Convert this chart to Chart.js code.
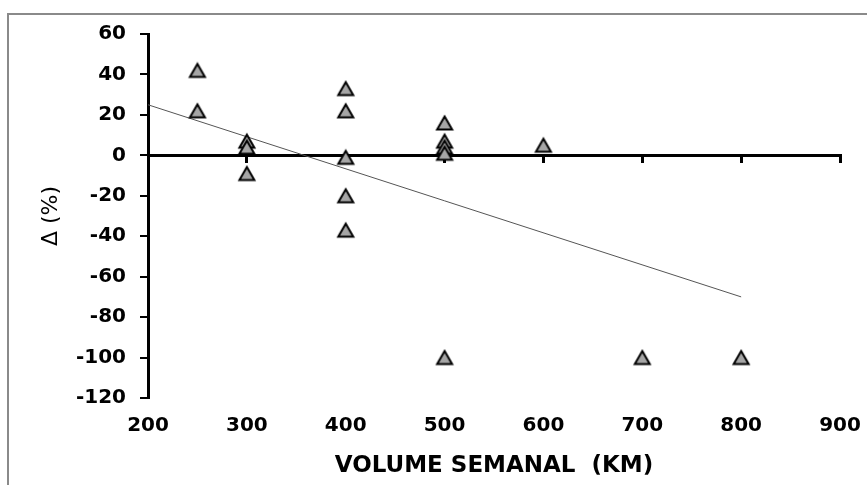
<!DOCTYPE html>
<html>
<head>
<meta charset="utf-8">
<script src="https://cdn.jsdelivr.net/npm/chart.js@4/dist/chart.umd.min.js"></script>
<style>
  html, body { margin: 0; padding: 0; background: #fff; overflow: hidden; }
  #frame {
    position: absolute; left: 7px; top: 13px;
    border-left: 2px solid #8a8a8a; border-top: 2px solid #8a8a8a;
  }
  canvas { display: block; }
</style>
</head>
<body>
<div id="frame"><canvas id="myChart" width="858" height="470"></canvas></div>
<script>
const volume = [250, 250, 300, 300, 300, 400, 400, 400, 400, 400, 500, 500, 500, 500, 500, 600, 700, 800];
const delta  = [42, 22, 7, 4, -9, 33, 22, -1, -20, -37, 16, 7, 4, 1, -100, 5, -100, -100];
const trendX = [200, 800];
const trendY = [25, -70];

const tickFont = { family: 'DejaVu Sans', size: 20, weight: 'bold' };
const black = '#000';

// triangle marker centred on its box, like the spreadsheet markers
const marker = document.createElement('canvas');
marker.width = 20;
marker.height = 18;
const m = marker.getContext('2d');
m.beginPath();
m.moveTo(10, 2.5);
m.lineTo(17.5, 15.5);
m.lineTo(2.5, 15.5);
m.closePath();
m.fillStyle = '#a6a6a6';
m.fill();
m.lineWidth = 2;
m.strokeStyle = black;
m.stroke();

const ctx = document.getElementById('myChart');
new Chart(ctx, {
  type: 'scatter',
  data: {
    datasets: [
      {
        label: 'Δ',
        data: volume.map((v, i) => ({ x: v, y: delta[i] })),
        pointStyle: marker,
        pointRadius: 8,
      },
      {
        label: 'tendência',
        type: 'line',
        data: trendX.map((v, i) => ({ x: v, y: trendY[i] })),
        borderColor: '#555',
        borderWidth: 1,
        pointRadius: 0,
        fill: false,
      }
    ]
  },
  options: {
    responsive: false,
    animation: false,
    layout: { padding: { left: 0, top: 19, right: 27, bottom: 0 } },
    plugins: {
      legend: { display: false },
      tooltip: { enabled: false }
    },
    scales: {
      x: {
        type: 'linear',
        position: 'bottom',
        min: 200,
        max: 900,
        afterFit: (scale) => {
          scale.height = 87;
          scale.paddingLeft = 0;
          scale.paddingRight = 0;
        },
        ticks: { stepSize: 100, color: black, font: tickFont, padding: 16 },
        grid: { display: false, drawTicks: false },
        border: { display: false },
        title: {
          display: true,
          text: 'VOLUME SEMANAL  (KM)',
          color: black,
          font: { family: 'DejaVu Sans', size: 23, weight: 'bold' },
          padding: { top: 0, bottom: 5 }
        }
      },
      x0: {
        type: 'linear',
        axis: 'x',
        position: { y: 0 },
        min: 200,
        max: 900,
        ticks: { stepSize: 100, display: false },
        grid: { drawOnChartArea: false, tickLength: 6, lineWidth: 3, color: black },
        border: { width: 3, color: black }
      },
      y: {
        min: -120,
        max: 60,
        afterFit: (scale) => {
          scale.width = 139;
          scale.paddingTop = 0;
          scale.paddingBottom = 0;
        },
        ticks: { stepSize: 20, color: black, font: tickFont, padding: 14 },
        grid: { drawOnChartArea: false, tickLength: 8, lineWidth: 2, color: black },
        border: { width: 3, color: black },
        title: {
          display: true,
          text: 'Δ (%)',
          color: black,
          font: { family: 'DejaVu Sans', size: 22 },
          padding: { top: 29, bottom: 0 }
        }
      }
    }
  }
});
</script>
</body>
</html>
